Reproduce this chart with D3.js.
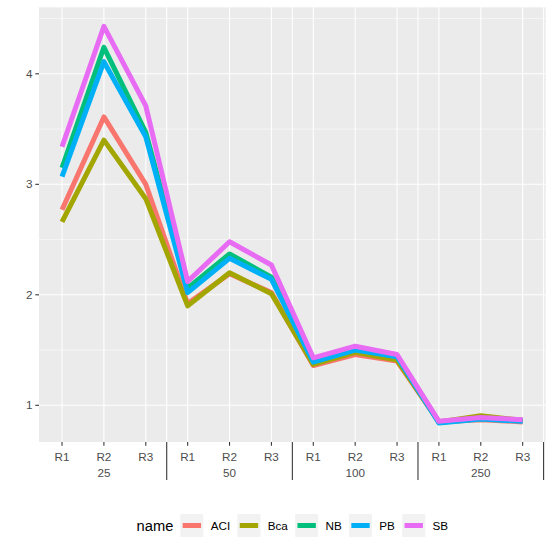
<!DOCTYPE html>
<html><head><meta charset="utf-8">
<script src="https://cdn.jsdelivr.net/npm/d3@7"></script>
<style>body{margin:0;background:#fff}svg{display:block}text{font-family:"Liberation Sans",Arial,sans-serif}</style>
</head><body><svg id="c" width="553" height="552"></svg>
<script>
const reps = ["R1","R2","R3"];
const groups = ["25","50","100","250"];
const seriesNames = ["ACI","Bca","NB","PB","SB"];
const colors = ["#F8766D","#A3A500","#00BF7D","#00B0F6","#E76BF3"];
const ACI = [2.77, 3.61, 3.00, 1.92, 2.19, 2.02, 1.36, 1.46, 1.40, 0.85, 0.87, 0.85];
const Bca = [2.66, 3.40, 2.87, 1.90, 2.20, 2.01, 1.37, 1.48, 1.41, 0.85, 0.905, 0.865];
const NB  = [3.15, 4.24, 3.47, 2.06, 2.37, 2.16, 1.40, 1.51, 1.44, 0.845, 0.88, 0.86];
const PB  = [3.07, 4.11, 3.43, 2.02, 2.33, 2.14, 1.39, 1.50, 1.44, 0.84, 0.875, 0.855];
const SB  = [3.34, 4.43, 3.71, 2.12, 2.48, 2.27, 1.43, 1.535, 1.46, 0.855, 0.89, 0.87];
const yTicks = [1,2,3,4];
const yMinor = [1.5,2.5,3.5,4.5];
const seriesValues = [ACI,Bca,NB,PB,SB];

const svg = d3.select("#c");
const P = {l:39, r:545.7, t:7.3, b:442};
const n = groups.length*reps.length;
const idx = d3.range(n);
const x = d3.scaleLinear().domain([1-0.55, n+0.55]).range([P.l,P.r]);
const y = d3.scaleLinear().domain([0.668, 4.602]).range([P.b,P.t]);

svg.append("rect").attr("x",P.l).attr("y",P.t).attr("width",P.r-P.l).attr("height",P.b-P.t).attr("fill","#EBEBEB");
const g = svg.append("g");
g.selectAll(".ym").data(yMinor).join("line").attr("x1",P.l).attr("x2",P.r)
 .attr("y1",d=>y(d)).attr("y2",d=>y(d)).attr("stroke","#fff").attr("stroke-width",0.55);
const bounds = d3.range(1,groups.length+1).map(k=>k*reps.length+0.5);
g.selectAll(".xm").data(bounds).join("line").attr("y1",P.t).attr("y2",P.b)
 .attr("x1",d=>x(d)).attr("x2",d=>x(d)).attr("stroke","#fff").attr("stroke-width",1.07);
g.selectAll(".yM").data(yTicks).join("line").attr("x1",P.l).attr("x2",P.r)
 .attr("y1",d=>y(d)).attr("y2",d=>y(d)).attr("stroke","#fff").attr("stroke-width",1.07);
g.selectAll(".xM").data(idx).join("line").attr("y1",P.t).attr("y2",P.b)
 .attr("x1",d=>x(d+1)).attr("x2",d=>x(d+1)).attr("stroke","#fff").attr("stroke-width",1.07);

const line = d3.line().x((d,i)=>x(i+1)).y(d=>y(d)).curve(d3.curveLinear);
seriesValues.forEach((vals,si)=>{
  svg.append("path").attr("d",line(vals)).attr("fill","none").attr("stroke",colors[si])
    .attr("stroke-width",5).attr("stroke-linejoin","round").attr("stroke-linecap","butt");
});

// y axis
const ya = svg.append("g");
ya.selectAll("line").data(yTicks).join("line").attr("x1",P.l-3.7).attr("x2",P.l)
  .attr("y1",d=>y(d)).attr("y2",d=>y(d)).attr("stroke","#333").attr("stroke-width",1.07);
ya.selectAll("text").data(yTicks).join("text").attr("x",P.l-6.6).attr("y",d=>y(d)).attr("dy","0.35em")
  .attr("text-anchor","end").attr("font-size",11.7).attr("fill","#4D4D4D").text(d=>d);

// x axis
const xa = svg.append("g");
xa.selectAll("line").data(idx).join("line").attr("x1",d=>x(d+1)).attr("x2",d=>x(d+1))
  .attr("y1",P.b).attr("y2",P.b+3.7).attr("stroke","#333").attr("stroke-width",1.07);
xa.selectAll("text.r").data(idx).join("text").attr("class","r").attr("x",d=>x(d+1)).attr("y",P.b+19)
  .attr("text-anchor","middle").attr("font-size",11.7).attr("fill","#4D4D4D").text(d=>reps[d%reps.length]);
xa.selectAll("text.g").data(groups).join("text").attr("class","g").attr("x",(d,i)=>x(i*reps.length+2)).attr("y",P.b+35)
  .attr("text-anchor","middle").attr("font-size",11.7).attr("fill","#4D4D4D").text(d=>d);
xa.selectAll("line.s").data(bounds).join("line").attr("class","s").attr("x1",d=>x(d)).attr("x2",d=>x(d))
  .attr("y1",P.b).attr("y2",P.b+38).attr("stroke","#333").attr("stroke-width",1.07);

// legend
const lg = svg.append("g");
const ly = 525.5;
const title = lg.append("text").attr("y",ly).attr("dy","0.35em").attr("font-size",14.7).attr("fill","#000").text("name");
const tw = title.node().getComputedTextLength();
const labels = seriesNames.map(s=>{const t=lg.append("text").attr("font-size",11.7).attr("fill","#000").attr("y",ly).attr("dy","0.35em").text(s);return t;});
const lw = labels.map(t=>t.node().getComputedTextLength());
const total = tw + 7 + d3.sum(lw) + seriesNames.length*(23+7.3) + (seriesNames.length-1)*7.3;
let cx = (P.l+P.r)/2 - total/2;
title.attr("x",cx); cx += tw + 7;
seriesNames.forEach((s,i)=>{
  lg.append("rect").attr("x",cx).attr("y",ly-11.5).attr("width",23).attr("height",23).attr("fill","#F2F2F2");
  lg.append("line").attr("x1",cx+2.3).attr("x2",cx+20.7).attr("y1",ly).attr("y2",ly).attr("stroke",colors[i]).attr("stroke-width",5);
  labels[i].attr("x",cx+23+7.3);
  cx += 23+7.3+lw[i]+7.3;
});
</script></body></html>
